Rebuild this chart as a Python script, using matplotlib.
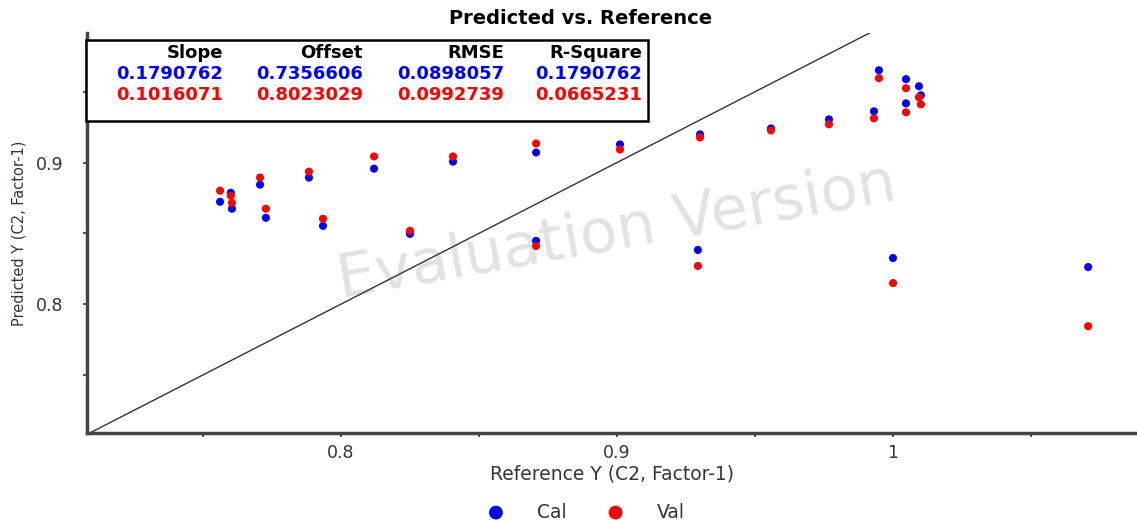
import matplotlib.pyplot as plt
import numpy as np

# reference values (x) and predicted values for Cal / Val
ref = [0.7562, 0.7601, 0.7605, 0.7707, 0.7728, 0.7884, 0.7935, 0.8120, 0.8250,
       0.8406, 0.8707, 0.8707, 0.9011, 0.9293, 0.9301, 0.9558, 0.9768, 0.9931,
       0.9949, 1.0000, 1.0047, 1.0047, 1.0094, 1.0101, 1.0707]
cal = [0.8723, 0.8787, 0.8674, 0.8844, 0.8610, 0.8894, 0.8553, 0.8957, 0.8496,
       0.9007, 0.9071, 0.8447, 0.9128, 0.8383, 0.9199, 0.9241, 0.9305, 0.9362,
       0.9652, 0.8326, 0.9589, 0.9418, 0.9539, 0.9475, 0.8262]
val = [0.8801, 0.8766, 0.8716, 0.8894, 0.8674, 0.8936, 0.8603, 0.9043, 0.8518,
       0.9043, 0.9135, 0.8411, 0.9092, 0.8270, 0.9177, 0.9227, 0.9270, 0.9312,
       0.9596, 0.8149, 0.9525, 0.9355, 0.9461, 0.9411, 0.7844]

headers = ["Slope", "Offset", "RMSE", "R-Square"]
cal_stats = ["0.1790762", "0.7356606", "0.0898057", "0.1790762"]
val_stats = ["0.1016071", "0.8023029", "0.0992739", "0.0665231"]

fig = plt.figure(figsize=(11.37, 5.2), dpi=100)
ax = fig.add_axes([87/1137, 1-433/520, 1050/1137, 400/520])

ax.plot([0.6, 1.2], [0.6, 1.2], color="#333333", lw=1.0, zorder=1)
ax.scatter(ref, cal, s=34, color="#0000ff", edgecolors="none", zorder=3, label="Cal")
ax.scatter(ref, val, s=34, color="#ff0000", edgecolors="none", zorder=4, label="Val")

ax.set_xlim(0.708, 1.0884)
ax.set_ylim(0.709, 0.9915)
ax.set_xticks([0.8, 0.9, 1.0])
ax.set_xticklabels(["0.8", "0.9", "1"])
ax.set_xticks([0.75, 0.85, 0.95, 1.05], minor=True)
ax.set_yticks([0.8, 0.9])
ax.set_yticklabels(["0.8", "0.9"])
ax.set_yticks([0.75, 0.85, 0.95], minor=True)
ax.tick_params(which="both", length=3, width=1.5, color="#555555",
               labelsize=12.5, labelcolor="#333344")
ax.tick_params(axis="x", pad=5)
ax.tick_params(axis="y", pad=14)

for s in ["top", "right"]:
    ax.spines[s].set_visible(False)
for s in ["left", "bottom"]:
    ax.spines[s].set_linewidth(2.5)
    ax.spines[s].set_color("#444444")

ax.set_xlabel("Reference Y (C2, Factor-1)", fontsize=13.5, color="#333344")
ax.xaxis.set_label_coords(0.5, -0.08)
ax.set_ylabel("Predicted Y (C2, Factor-1)", fontsize=10.5, color="#333344")
ax.yaxis.set_label_coords(-0.058, 0.5)

fig.text(581/1137, 1-19/520, "Predicted vs. Reference", ha="center", va="center",
         fontsize=14, fontweight="bold")

# watermark
ax.text(0.505, 0.5, "Evaluation Version", transform=ax.transAxes, fontsize=44,
        color="#e2e2e2", rotation=10, ha="center", va="center", zorder=0)

# statistics box
box = plt.Rectangle((86/1137, 1-121/520), 562/1137, 81/520, transform=fig.transFigure,
                    facecolor="white", edgecolor="black", lw=1.8, zorder=5)
fig.patches.append(box)
col_right = [223, 363, 504, 642]
for xr, h, c, v in zip(col_right, headers, cal_stats, val_stats):
    fig.text(xr/1137, 1-53/520, h, ha="right", va="center", fontsize=13,
             fontweight="bold", color="black", zorder=6)
    fig.text(xr/1137, 1-74/520, c, ha="right", va="center", fontsize=13,
             fontweight="bold", color="#0000ff", zorder=6)
    fig.text(xr/1137, 1-95/520, v, ha="right", va="center", fontsize=13,
             fontweight="bold", color="#ff0000", zorder=6)

fig.legend(loc="center", bbox_to_anchor=(581/1137, 1-512/520), ncol=2, frameon=False,
           fontsize=13.5, markerscale=1.7, handletextpad=1.2, columnspacing=1.6,
           labelcolor="#333333")

fig.savefig("out.png", dpi=100)
